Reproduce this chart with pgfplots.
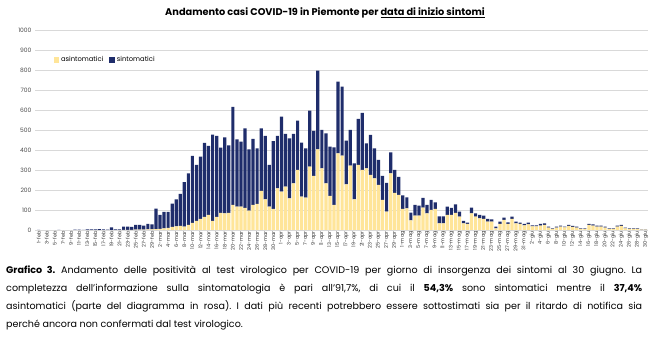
\documentclass[border=0pt]{standalone}
\usepackage{fontspec}
\setmainfont{Poppins}
\usepackage{pgfplots}
\usepackage{pgfplotstable}
\pgfplotsset{compat=1.18}
\frenchspacing
\definecolor{asy}{RGB}{255,229,153}
\definecolor{sym}{RGB}{31,45,107}
\pgfplotstableread{
x a s
0 0 1
1 0 0
2 0 0
3 0 0
4 0 0
5 0 1
6 0 0
7 0 0
8 0 0
9 0 2
10 0 2
11 0 1
12 0 3
13 0 3
14 0 3
15 0 4
16 0 3
17 0 2
18 0 13
19 0 3
20 0 3
21 1 16
22 1 16
23 1 15
24 2 23
25 2 23
26 2 20
27 3 27
28 3 25
29 4 103
30 6 69
31 8 83
32 10 80
33 15 117
34 18 135
35 20 160
36 17 222
37 25 258
38 35 335
39 45 280
40 55 312
41 65 370
42 75 345
43 45 432
44 65 405
45 85 327
46 83 380
47 85 338
48 125 490
49 117 336
50 117 325
51 110 398
52 97 306
53 125 330
54 130 278
55 195 313
56 153 318
57 117 208
58 105 339
59 208 262
60 192 375
61 217 263
62 158 300
63 233 247
64 300 247
65 167 270
66 162 246
67 317 280
68 270 225
69 403 394
70 308 192
71 233 250
72 170 247
73 125 288
74 383 359
75 372 345
76 228 219
77 322 178
78 153 180
79 325 230
80 300 285
81 308 125
82 275 200
83 258 150
84 225 125
85 150 120
86 92 143
87 283 105
88 185 115
89 175 90
90 105 68
91 108 55
92 48 39
93 72 53
94 72 50
95 112 48
96 83 42
97 100 50
98 105 33
99 33 35
100 33 35
101 75 42
102 75 35
103 85 43
104 67 25
105 33 12
106 30 7
107 83 29
108 67 16
109 58 17
110 55 17
111 42 13
112 42 11
113 8 9
114 30 12
115 50 12
116 30 8
117 55 12
118 33 9
119 30 7
120 23 7
121 28 9
122 18 5
123 18 5
124 22 8
125 25 8
126 12 5
127 5 3
128 12 5
129 17 5
130 13 4
131 20 5
132 15 5
133 12 5
134 5 3
135 5 3
136 25 5
137 22 6
138 17 5
139 17 5
140 12 5
141 5 3
142 5 3
143 17 5
144 20 5
145 8 4
146 6 2
147 6 2
148 6 2
149 2 1
150 2 1
}\data
\begin{document}
\begin{tikzpicture}
\useasboundingbox (0,0) rectangle (650bp,342bp);
\node[font=\fontsize{9.8}{11}\selectfont\bfseries] at (325bp,329bp) {Andamento casi COVID-19 in Piemonte per \underline{data di inizio sintomi}};
\begin{axis}[
  at={(35bp,112bp)}, anchor=south west,
  scale only axis, width=613bp, height=200bp,
  xmin=-0.9, xmax=150.6, ymin=0, ymax=1000,
  ybar stacked, bar width=3.2bp,
  ytick={0,100,...,1000},
  xtick={0,2,...,150},
  xticklabels={1-feb,3-feb,5-feb,7-feb,9-feb,11-feb,13-feb,15-feb,17-feb,19-feb,21-feb,23-feb,25-feb,27-feb,29-feb,
    2-mar,4-mar,6-mar,8-mar,10-mar,12-mar,14-mar,16-mar,18-mar,20-mar,22-mar,24-mar,26-mar,28-mar,30-mar,
    1-apr,3-apr,5-apr,7-apr,9-apr,11-apr,13-apr,15-apr,17-apr,19-apr,21-apr,23-apr,25-apr,27-apr,29-apr,
    1-mag,3-mag,5-mag,7-mag,9-mag,11-mag,13-mag,15-mag,17-mag,19-mag,21-mag,23-mag,25-mag,27-mag,29-mag,31-mag,
    2-giu,4-giu,6-giu,8-giu,10-giu,12-giu,14-giu,16-giu,18-giu,20-giu,22-giu,24-giu,26-giu,28-giu,30-giu},
  xticklabel style={rotate=90, anchor=east, font=\fontsize{5}{6}\selectfont, text=black!80, inner sep=1bp},
  yticklabel style={font=\fontsize{6}{7}\selectfont, text=black!70, /pgf/number format/assume math mode=true, /pgf/number format/1000 sep={}},
  major tick length=0pt,
  axis line style={draw=none},
  ymajorgrids, grid style={black!15, line width=0.5bp},
  legend style={draw=none, fill=none, at={(0.025,0.85)}, anchor=west, legend columns=2,
    font=\fontsize{6.8}{7}\selectfont,
    /tikz/every even column/.append style={column sep=4bp}},
]
\addplot[fill=asy, draw=none, legend image code/.code={\fill[asy] (0bp,-2.8bp) rectangle (5.5bp,2.8bp);}] table[x=x,y=a]{\data};
\addplot[fill=sym, draw=none, legend image code/.code={\fill[sym] (0bp,-2.8bp) rectangle (5.5bp,2.8bp);}] table[x=x,y=s]{\data};
\legend{asintomatici,sintomatici}
\end{axis}
\node[anchor=north west, text width=636bp, align=justify, inner sep=0pt, font=\fontsize{9.6}{18}\selectfont] at (6bp,76bp) {\textbf{Grafico 3.} Andamento delle positività al test virologico per COVID-19 per giorno di insorgenza dei sintomi al 30 giugno. La\linebreak completezza dell'informazione sulla sintomatologia è pari all'91,7\%, di cui il \textbf{54,3\%} sono sintomatici mentre il \textbf{37,4\%}\linebreak asintomatici (parte del diagramma in rosa). I dati più recenti potrebbero essere sottostimati sia per il ritardo di notifica sia\linebreak perché ancora non confermati dal test virologico.};
\end{tikzpicture}
\end{document}
